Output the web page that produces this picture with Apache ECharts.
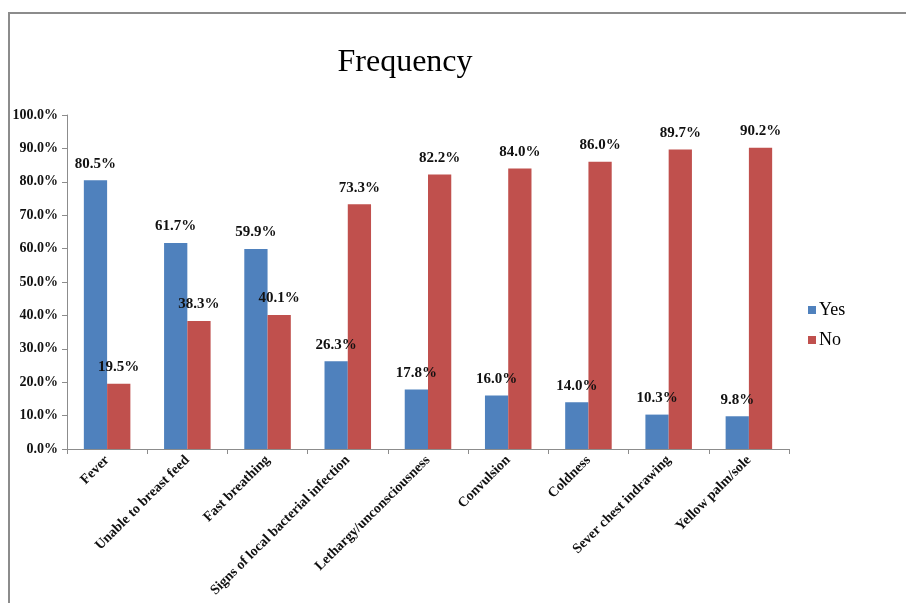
<!DOCTYPE html>
<html>
<head>
<meta charset="utf-8">
<script src="https://cdn.jsdelivr.net/npm/echarts@6/dist/echarts.min.js"></script>
<style>
  html, body { margin: 0; padding: 0; background: #fff; }
  #main { width: 906px; height: 603px; }
</style>
</head>
<body>
<div id="main"></div>
<script>
    var categories = ['Fever', 'Unable to breast feed', 'Fast breathing', 'Signs of local bacterial infection',
        'Lethargy/unconsciousness', 'Convulsion', 'Coldness', 'Sever chest indrawing', 'Yellow palm/sole'];
    var yesData = [80.5, 61.7, 59.9, 26.3, 17.8, 16.0, 14.0, 10.3, 9.8];
    var noData = [19.5, 38.3, 40.1, 73.3, 82.2, 84.0, 86.0, 89.7, 90.2];

    var serif = 'Liberation Serif';
    var chart = echarts.init(document.getElementById('main'));

    var labelStyle = {
        show: true,
        position: 'top',
        distance: 9,
        fontFamily: serif,
        fontWeight: 'bold',
        fontSize: 15,
        color: '#111',
        formatter: function (p) { return p.value.toFixed(1) + '%'; }
    };

    var option = {
        animation: false,
        backgroundColor: '#fff',
        graphic: [{
            type: 'polyline',
            shape: { points: [[9, 603], [9, 13], [906, 13]] },
            style: { stroke: '#8c8c8c', lineWidth: 2, fill: null }
        }],
        title: {
            text: 'Frequency',
            left: 400,
            top: 42,
            textAlign: 'center',
            textStyle: { fontFamily: serif, fontWeight: 'normal', fontSize: 32, color: '#000' }
        },
        legend: {
            orient: 'vertical',
            left: 803,
            top: 296,
            itemWidth: 8,
            itemHeight: 8,
            itemGap: 12,
            icon: 'rect',
            data: ['Yes', 'No'],
            textStyle: { fontFamily: serif, fontSize: 18, color: '#000', padding: [0, 0, 0, -2] }
        },
        grid: { left: 67, right: 117, top: 115, bottom: 154, containLabel: false },
        xAxis: {
            type: 'category',
            data: categories,
            axisLine: { lineStyle: { color: '#8c8c8c', width: 1 } },
            axisTick: { show: true, length: 5, lineStyle: { color: '#8c8c8c' } },
            axisLabel: {
                rotate: 45,
                margin: 9,
                interval: 0,
                fontFamily: serif,
                fontWeight: 'bold',
                fontSize: 14,
                color: '#111'
            }
        },
        yAxis: {
            type: 'value',
            min: 0,
            max: 100,
            interval: 10,
            axisLine: { show: true, lineStyle: { color: '#8c8c8c' } },
            axisTick: { show: true, length: 5, lineStyle: { color: '#8c8c8c' } },
            splitLine: { show: false },
            axisLabel: {
                margin: 9,
                fontFamily: serif,
                fontWeight: 'bold',
                fontSize: 14,
                color: '#111',
                formatter: function (v) { return v.toFixed(1) + '%'; }
            }
        },
        series: [
            {
                name: 'Yes',
                type: 'bar',
                data: yesData,
                barGap: '0%',
                barCategoryGap: '42%',
                itemStyle: { color: '#4f81bd' },
                label: labelStyle
            },
            {
                name: 'No',
                type: 'bar',
                data: noData,
                itemStyle: { color: '#c0504d' },
                label: labelStyle
            }
        ]
    };

    chart.setOption(option);
</script>
</body>
</html>
